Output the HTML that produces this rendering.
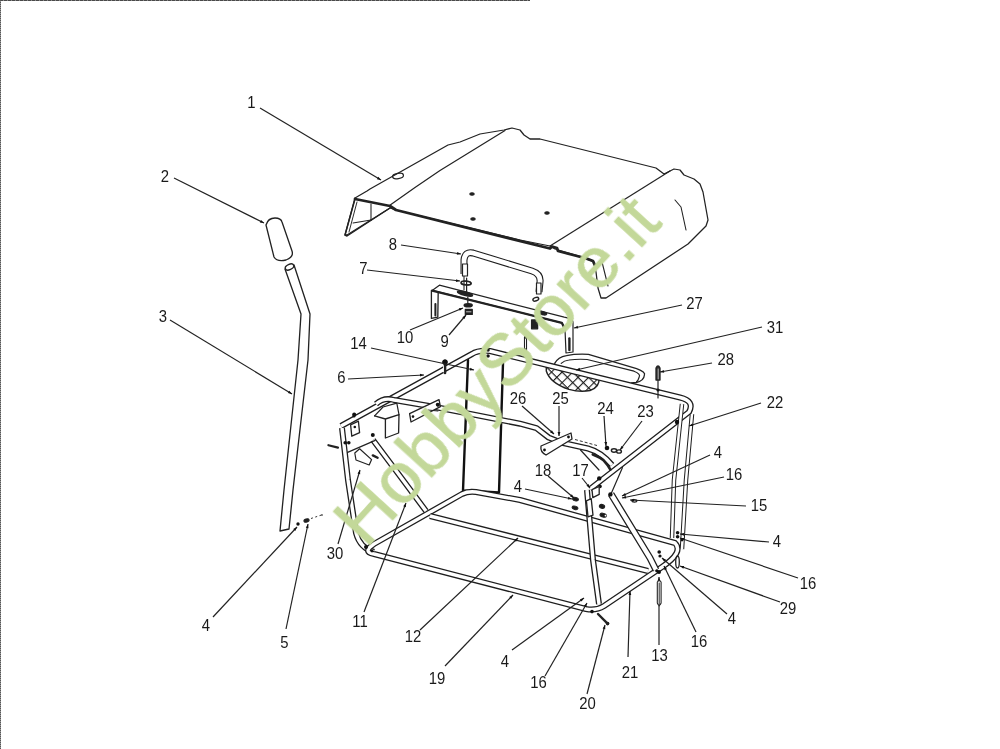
<!DOCTYPE html>
<html><head><meta charset="utf-8"><style>
html,body{margin:0;padding:0;background:#fff;width:1000px;height:749px;overflow:hidden}
svg{position:absolute;left:0;top:0;display:block}
</style></head><body>
<svg width="1000" height="749" viewBox="0 0 1000 749">
<defs>
<pattern id="hatch" width="7.5" height="7.5" patternUnits="userSpaceOnUse" patternTransform="rotate(45)">
<rect width="7.5" height="7.5" fill="#fff"/>
<path d="M0,0 L7.5,0 M0,0 L0,7.5" stroke="#1a1a1a" stroke-width="2.2"/>
</pattern>
</defs>
<line x1="0" y1="0.5" x2="530" y2="0.5" stroke="#8a8a8a" stroke-width="1"/>
<line x1="0" y1="0.5" x2="530" y2="0.5" stroke="#4a4a4a" stroke-width="1" stroke-dasharray="3,1"/>
<line x1="0.5" y1="0" x2="0.5" y2="749" stroke="#999" stroke-width="1"/>
<line x1="0.5" y1="0" x2="0.5" y2="749" stroke="#555" stroke-width="1" stroke-dasharray="1,1"/>
<path d="M355,198 L367,191 L370,189 L448,145 L460,142 L480,134 L504,130 L512,128 L520,130 L524,135 L530,139 L540,139 L656,168 L664,174 L670,171 L674,169 L680,170 L684,175 L694,179 L700,184 L703,192 L708,220 L706,226 L688,244 L606,298 L601,298 L598,288 L596,272 L594,262 L582,257 L555,249 L550,246 L520,240 L396,210 L390,208 L347,235 L345,235 Z" fill="#fff" stroke="#222" stroke-width="1.26" stroke-linejoin="round" stroke-linecap="round" />
<polyline points="355,199 390,206 396,210 550,248.5 552,246.5 557,248 558,251 577,256 586,258.4 593,261 595,265.6" fill="none" stroke="#222" stroke-width="2.76" stroke-linejoin="round" stroke-linecap="round" />
<polyline points="389.5,205.6 415,187.5 440,170.5 505,130.6" fill="none" stroke="#222" stroke-width="1.2" stroke-linejoin="round" stroke-linecap="round" />
<polyline points="550,246 670,171" fill="none" stroke="#222" stroke-width="1.2" stroke-linejoin="round" stroke-linecap="round" />
<polyline points="355,199 345,235 347,236 390,208" fill="none" stroke="#222" stroke-width="1.44" stroke-linejoin="round" stroke-linecap="round" />
<polyline points="357,202 349,232" fill="none" stroke="#222" stroke-width="0.96" stroke-linejoin="round" stroke-linecap="round" />
<polyline points="371,204 371,220" fill="none" stroke="#222" stroke-width="1.08" stroke-linejoin="round" stroke-linecap="round" />
<polyline points="353,223 371,220" fill="none" stroke="#222" stroke-width="1.08" stroke-linejoin="round" stroke-linecap="round" />
<polyline points="675,200 681,207 686,230" fill="none" stroke="#222" stroke-width="1.08" stroke-linejoin="round" stroke-linecap="round" />
<polyline points="602,262 608,286" fill="none" stroke="#222" stroke-width="1.08" stroke-linejoin="round" stroke-linecap="round" />
<ellipse cx="398" cy="176" rx="5.5" ry="2.6" transform="rotate(-10 398 176)" fill="none" stroke="#222" stroke-width="1.2"/>
<ellipse cx="472" cy="194" rx="2.2" ry="1.2" transform="rotate(0 472 194)" fill="#222" stroke="#222" stroke-width="1.2"/>
<ellipse cx="473" cy="219" rx="2.2" ry="1.2" transform="rotate(0 473 219)" fill="#222" stroke="#222" stroke-width="1.2"/>
<ellipse cx="547" cy="213" rx="2.2" ry="1.2" transform="rotate(0 547 213)" fill="#222" stroke="#222" stroke-width="1.2"/>
<path d="M266,225 Q268,218 275,218 Q281,218 282,222 L292,251 Q294,257 286,260 Q277,262 274,257 Z" fill="#fff" stroke="#222" stroke-width="1.32" stroke-linejoin="round" stroke-linecap="round" />
<path d="M285,269 L301,314 L298,360 L284,490 L280,531 L289,529 L293,490 L308,360 L310,314 L294,265" fill="none" stroke="#222" stroke-width="1.32" stroke-linejoin="round" stroke-linecap="round" />
<ellipse cx="289.5" cy="267" rx="4.5" ry="2.6" transform="rotate(-25 289.5 267)" fill="none" stroke="#222" stroke-width="1.32"/>
<path d="M464,274 L464,260 Q465,251 473,253 L532,271 Q541,274 540,282 L539,292" fill="none" stroke="#1e1e1e" stroke-width="7" stroke-linejoin="round" stroke-linecap="butt"/>
<path d="M464,274 L464,260 Q465,251 473,253 L532,271 Q541,274 540,282 L539,292" fill="none" stroke="#fff" stroke-width="4.8" stroke-linejoin="round" stroke-linecap="butt"/>
<polyline points="464,274 464,290" fill="none" stroke="#222" stroke-width="1.08" stroke-linejoin="round" stroke-linecap="round" />
<ellipse cx="466" cy="283" rx="5" ry="2" transform="rotate(0 466 283)" fill="none" stroke="#222" stroke-width="1.2"/>
<path d="M432.2,290.4 L439.4,285.2 L564.2,317.2 L571.5,318.8 L573,322 L573,352 L566,353 L565,329.2 L561.8,322.8 Z" fill="#fff" stroke="#222" stroke-width="1.2" stroke-linejoin="round" stroke-linecap="round" />
<path d="M431.4,290.4 L431.4,318.4 L437.8,317.2 L438.2,292" fill="#fff" stroke="#222" stroke-width="1.32" stroke-linejoin="round" stroke-linecap="round" />
<polyline points="432.2,290.6 561.8,322.8 565,329.2" fill="none" stroke="#222" stroke-width="2.28" stroke-linejoin="round" stroke-linecap="round" />
<polyline points="435.4,304 435.4,315.5" fill="none" stroke="#222" stroke-width="2.04" stroke-linejoin="round" stroke-linecap="round" />
<polyline points="569.4,338.5 569.4,350" fill="none" stroke="#222" stroke-width="2.4" stroke-linejoin="round" stroke-linecap="round" />
<ellipse cx="465" cy="293.6" rx="7.5" ry="1.5" transform="rotate(14 465 293.6)" fill="#222" stroke="#222" stroke-width="1.92"/>
<ellipse cx="542.6" cy="313.2" rx="4" ry="1.4" transform="rotate(14 542.6 313.2)" fill="#222" stroke="#222" stroke-width="1.68"/>
<polyline points="466.6,278 466.6,292" fill="none" stroke="#222" stroke-width="1.2" stroke-linejoin="round" stroke-linecap="round" />
<polyline points="467.8,297 467.8,303" fill="none" stroke="#222" stroke-width="1.2" stroke-linejoin="round" stroke-linecap="round" />
<ellipse cx="466.2" cy="283" rx="5" ry="1.8" transform="rotate(8 466.2 283)" fill="none" stroke="#222" stroke-width="1.56"/>
<ellipse cx="468.2" cy="305.2" rx="4" ry="1.6" transform="rotate(0 468.2 305.2)" fill="#222" stroke="#222" stroke-width="1.44"/>
<path d="M465.4,309.4 L472.2,309.4 L472.2,314.4 L465.4,314.4 Z" fill="#222" stroke="#222" stroke-width="1.44" stroke-linejoin="round" stroke-linecap="round" />
<polyline points="466.5,311.8 471,311.8" fill="none" stroke="#fff" stroke-width="0.72" stroke-linejoin="round" stroke-linecap="round" />
<ellipse cx="535.8" cy="299.2" rx="3" ry="1.7" transform="rotate(-20 535.8 299.2)" fill="none" stroke="#222" stroke-width="1.44"/>
<path d="M531.6,320 L537.6,320 L537.6,328.8 L531.6,328.8 Z" fill="#222" stroke="#222" stroke-width="1.32" stroke-linejoin="round" stroke-linecap="round" />
<polyline points="468,360 463,490.5 499,492.5 503,363" fill="none" stroke="#111" stroke-width="2.4" stroke-linejoin="round" stroke-linecap="round" />
<circle cx="471" cy="490.5" r="1.8" fill="#111"/>
<path d="M554.7,363.4 Q558,357 566.4,355.6 Q576,353.6 588.5,354.3 L636.6,368.6 Q646,372 644.4,375 Q644,381 636,382.5 L631.4,383" fill="none" stroke="#222" stroke-width="1.32" stroke-linejoin="round" stroke-linecap="round" />
<path d="M561.2,363.4 Q564,360.5 569,360 Q578,358.8 587.2,359.5 L634,371.2 Q641,374 639.2,377 Q638,381 636.6,381.6" fill="none" stroke="#222" stroke-width="1.2" stroke-linejoin="round" stroke-linecap="round" />
<path d="M546.3,366 L599,378 Q600,387 590,390.5 Q580,392.5 569,389.4 Q550,383 546.3,371 Z" fill="url(#hatch)" stroke="#222" stroke-width="1.44" stroke-linejoin="round" stroke-linecap="round" />
<path d="M341,426 L472,354 Q478,350 490,351 L680,397.5 Q695,401 689,412 L590,489" fill="none" stroke="#1e1e1e" stroke-width="6" stroke-linejoin="round" stroke-linecap="butt"/>
<path d="M341,426 L472,354 Q478,350 490,351 L680,397.5 Q695,401 689,412 L590,489" fill="none" stroke="#fff" stroke-width="3.4" stroke-linejoin="round" stroke-linecap="butt"/>
<path d="M342,428 L348,480 L356,533 Q360,548 374,552" fill="none" stroke="#1e1e1e" stroke-width="6" stroke-linejoin="round" stroke-linecap="butt"/>
<path d="M342,428 L348,480 L356,533 Q360,548 374,552" fill="none" stroke="#fff" stroke-width="3.4" stroke-linejoin="round" stroke-linecap="butt"/>
<path d="M374,554 L586,609 Q596,611 604,606 L662,567 Q684,552 675,543 L520,500 L476,492 Q468,491 462,494 L374,544 Q362,552 374,554" fill="none" stroke="#1e1e1e" stroke-width="6" stroke-linejoin="round" stroke-linecap="butt"/>
<path d="M374,554 L586,609 Q596,611 604,606 L662,567 Q684,552 675,543 L520,500 L476,492 Q468,491 462,494 L374,544 Q362,552 374,554" fill="none" stroke="#fff" stroke-width="3.4" stroke-linejoin="round" stroke-linecap="butt"/>
<path d="M430,516 L648,571" fill="none" stroke="#1e1e1e" stroke-width="6" stroke-linejoin="round" stroke-linecap="butt"/>
<path d="M430,516 L648,571" fill="none" stroke="#fff" stroke-width="3.4" stroke-linejoin="round" stroke-linecap="butt"/>
<path d="M373,440 L397,472 L426,511" fill="none" stroke="#1e1e1e" stroke-width="6" stroke-linejoin="round" stroke-linecap="butt"/>
<path d="M373,440 L397,472 L426,511" fill="none" stroke="#fff" stroke-width="3.4" stroke-linejoin="round" stroke-linecap="butt"/>
<path d="M611,494 L650,558 L656,570" fill="none" stroke="#1e1e1e" stroke-width="7" stroke-linejoin="round" stroke-linecap="butt"/>
<path d="M611,494 L650,558 L656,570" fill="none" stroke="#fff" stroke-width="4.4" stroke-linejoin="round" stroke-linecap="butt"/>
<polyline points="622.5,467.5 611,494" fill="none" stroke="#222" stroke-width="1.2" stroke-linejoin="round" stroke-linecap="round" />
<path d="M587,490 L593,560 L599,604" fill="none" stroke="#1e1e1e" stroke-width="6" stroke-linejoin="round" stroke-linecap="butt"/>
<path d="M587,490 L593,560 L599,604" fill="none" stroke="#fff" stroke-width="3.4" stroke-linejoin="round" stroke-linecap="butt"/>
<path d="M376,404 Q384,397 394,400 L435,407 L520,423.7 L536.5,428.2 L548.6,437.5 L561,442.5 L588,448.5 Q601,452 612,465" fill="none" stroke="#1e1e1e" stroke-width="6" stroke-linejoin="round" stroke-linecap="butt"/>
<path d="M376,404 Q384,397 394,400 L435,407 L520,423.7 L536.5,428.2 L548.6,437.5 L561,442.5 L588,448.5 Q601,452 612,465" fill="none" stroke="#fff" stroke-width="3.4" stroke-linejoin="round" stroke-linecap="butt"/>
<line x1="575" y1="439.5" x2="597" y2="445.5" stroke="#333" stroke-width="1" stroke-dasharray="3,2"/>
<polyline points="580.5,450 599,470" fill="none" stroke="#222" stroke-width="1.2" stroke-linejoin="round" stroke-linecap="round" />
<path d="M682,404 L674,480 L672,538" fill="none" stroke="#1e1e1e" stroke-width="4.5" stroke-linejoin="round" stroke-linecap="butt"/>
<path d="M682,404 L674,480 L672,538" fill="none" stroke="#fff" stroke-width="2.5" stroke-linejoin="round" stroke-linecap="butt"/>
<path d="M692,414 L686,480 L682,549" fill="none" stroke="#1e1e1e" stroke-width="4.5" stroke-linejoin="round" stroke-linecap="butt"/>
<path d="M692,414 L686,480 L682,549" fill="none" stroke="#fff" stroke-width="2.5" stroke-linejoin="round" stroke-linecap="butt"/>
<path d="M541,446 L571,433 L572,439 L546,455 Q540,452 541,446 Z" fill="#fff" stroke="#222" stroke-width="1.32" stroke-linejoin="round" stroke-linecap="round" />
<circle cx="544.5" cy="450" r="1.4" fill="#111"/>
<circle cx="568.5" cy="437" r="1.4" fill="#111"/>
<path d="M350.6,424.8 L358.4,421.2 L359.6,432.6 L351.8,436.2 Z" fill="#fff" stroke="#222" stroke-width="1.32" stroke-linejoin="round" stroke-linecap="round" />
<circle cx="354.8" cy="427" r="1.3" fill="#111"/>
<circle cx="354.2" cy="414.6" r="2.0" fill="#111"/>
<path d="M374.6,415.8 L385.4,419 L399,414.6 L398.6,433 L385.4,438 L385.4,419" fill="#fff" stroke="#222" stroke-width="1.32" stroke-linejoin="round" stroke-linecap="round" />
<polyline points="374.6,415.8 383,407 396.8,403.2 399,414.6" fill="none" stroke="#222" stroke-width="1.2" stroke-linejoin="round" stroke-linecap="round" />
<circle cx="372.8" cy="435" r="2.0" fill="#111"/>
<path d="M409.6,413.6 L439,399.6 L440.4,406.6 L411,422 Z" fill="#fff" stroke="#222" stroke-width="1.32" stroke-linejoin="round" stroke-linecap="round" />
<circle cx="413" cy="416.6" r="1.3" fill="#111"/>
<circle cx="437.6" cy="404.6" r="1.8" fill="#111"/>
<polyline points="428,410 438,411" fill="none" stroke="#222" stroke-width="1.08" stroke-linejoin="round" stroke-linecap="round" />
<path d="M354.8,453 L359.6,448.8 L371.6,459.6 L369.2,465 L356,460 Z" fill="#fff" stroke="#222" stroke-width="1.2" stroke-linejoin="round" stroke-linecap="round" />
<polyline points="328.4,445.2 338,447.6" fill="none" stroke="#222" stroke-width="2.16" stroke-linejoin="round" stroke-linecap="round" />
<circle cx="345.2" cy="442.8" r="1.8" fill="#111"/>
<circle cx="348.8" cy="442.8" r="1.8" fill="#111"/>
<polyline points="372.8,455.4 377.6,457.8" fill="none" stroke="#222" stroke-width="2.4" stroke-linejoin="round" stroke-linecap="round" />
<polyline points="347.6,452.4 375.2,440.4" fill="none" stroke="#222" stroke-width="1.2" stroke-linejoin="round" stroke-linecap="round" />
<circle cx="445" cy="362" r="2.6" fill="#111"/>
<polyline points="445,364 445,373" fill="none" stroke="#222" stroke-width="2.64" stroke-linejoin="round" stroke-linecap="round" />
<polyline points="443.5,366 443.5,372" fill="none" stroke="#fff" stroke-width="0.84" stroke-linejoin="round" stroke-linecap="round" />
<circle cx="607" cy="448" r="2.3" fill="#111"/>
<circle cx="599.2" cy="478.4" r="2.2" fill="#111"/>
<circle cx="600" cy="486.4" r="1.8" fill="#111"/>
<circle cx="610.4" cy="494.4" r="2.2" fill="#111"/>
<circle cx="677.6" cy="532.8" r="1.8" fill="#111"/>
<circle cx="677.6" cy="536.8" r="1.8" fill="#111"/>
<circle cx="682" cy="540" r="1.4" fill="#111"/>
<circle cx="659.2" cy="552" r="1.8" fill="#111"/>
<circle cx="660" cy="556" r="1.6" fill="#111"/>
<circle cx="659" cy="572" r="2.0" fill="#111"/>
<circle cx="592" cy="611.6" r="1.8" fill="#111"/>
<circle cx="607.6" cy="623.6" r="1.8" fill="#111"/>
<circle cx="656.8" cy="570.8" r="1.6" fill="#111"/>
<circle cx="445" cy="362" r="2.6" fill="#111"/>
<circle cx="488" cy="350" r="1.8" fill="#111"/>
<circle cx="488" cy="356" r="1.8" fill="#111"/>
<circle cx="438" cy="405" r="1.8" fill="#111"/>
<circle cx="354" cy="416" r="1.6" fill="#111"/>
<circle cx="677" cy="422" r="2.2" fill="#111"/>
<ellipse cx="614" cy="450.5" rx="2.6" ry="1.7" transform="rotate(0 614 450.5)" fill="none" stroke="#222" stroke-width="1.44"/>
<ellipse cx="619" cy="451.5" rx="2.4" ry="1.6" transform="rotate(0 619 451.5)" fill="none" stroke="#222" stroke-width="1.44"/>
<ellipse cx="634.4" cy="500.8" rx="2.5" ry="1.3" transform="rotate(0 634.4 500.8)" fill="none" stroke="#222" stroke-width="1.2"/>
<polyline points="598,614 607.6,623.6" fill="none" stroke="#222" stroke-width="2.4" stroke-linejoin="round" stroke-linecap="round" />
<ellipse cx="677.5" cy="562" rx="1.8" ry="6" transform="rotate(0 677.5 562)" fill="none" stroke="#222" stroke-width="1.32"/>
<path d="M656,368 Q658,364 660,368 L660,380 L656,380 Z" fill="#333" stroke="#222" stroke-width="1.32" stroke-linejoin="round" stroke-linecap="round" />
<polyline points="658.2,369 658.2,379" fill="none" stroke="#bbb" stroke-width="0.96" stroke-linejoin="round" stroke-linecap="round" />
<polyline points="658,380 658,398" fill="none" stroke="#222" stroke-width="1.2" stroke-linejoin="round" stroke-linecap="round" />
<circle cx="658" cy="390" r="1.6" fill="#111"/>
<ellipse cx="575.5" cy="499.2" rx="3.0" ry="1.7" transform="rotate(15 575.5 499.2)" fill="#1a1a1a" stroke="#222" stroke-width="0.96"/>
<ellipse cx="575" cy="507.8" rx="3.0" ry="1.7" transform="rotate(15 575 507.8)" fill="#1a1a1a" stroke="#222" stroke-width="0.96"/>
<ellipse cx="602" cy="506.4" rx="2.6" ry="1.8" transform="rotate(15 602 506.4)" fill="#1a1a1a" stroke="#222" stroke-width="1.2"/>
<ellipse cx="603.2" cy="515.2" rx="3.2" ry="1.8" transform="rotate(15 603.2 515.2)" fill="#1a1a1a" stroke="#222" stroke-width="1.2"/>
<circle cx="605.5" cy="515.6" r="0.9" fill="#fff"/>
<path d="M592.8,454.4 Q602,458 604,460.8 Q608,465 610.4,469.6" fill="none" stroke="#222" stroke-width="2.64" stroke-linejoin="round" stroke-linecap="round" />
<path d="M592,489.6 L599.2,486.5 L599.2,494.4 L592.8,497.6 Z" fill="#fff" stroke="#222" stroke-width="1.32" stroke-linejoin="round" stroke-linecap="round" />
<path d="M586.4,500.8 L591.2,498.6 L593,515.2 L588,516.8 Z" fill="#fff" stroke="#222" stroke-width="1.32" stroke-linejoin="round" stroke-linecap="round" />
<circle cx="298" cy="524" r="1.7" fill="#111"/>
<ellipse cx="306.5" cy="520.5" rx="2.6" ry="1.5" transform="rotate(-20 306.5 520.5)" fill="#222" stroke="#222" stroke-width="1.2"/>
<line x1="311" y1="518.5" x2="323" y2="514.5" stroke="#333" stroke-width="1" stroke-dasharray="2,2.5"/>
<circle cx="322" cy="515" r="0.8" fill="#111"/>
<circle cx="366" cy="547" r="2.0" fill="#111"/>
<circle cx="372" cy="551" r="1.4" fill="#111"/>
<path d="M462.5,264 L467.5,264 L467.5,276 L462.5,276 Z" fill="#fff" stroke="#222" stroke-width="1.2" stroke-linejoin="round" stroke-linecap="round" />
<path d="M536.5,283 L541,283 L541,294 L536.5,294 Z" fill="#fff" stroke="#222" stroke-width="1.2" stroke-linejoin="round" stroke-linecap="round" />
<polyline points="525.5,337 525.5,350" fill="none" stroke="#222" stroke-width="3.12" stroke-linejoin="round" stroke-linecap="round" />
<polyline points="525.5,339 525.5,348" fill="none" stroke="#fff" stroke-width="0.96" stroke-linejoin="round" stroke-linecap="round" />
<line x1="260" y1="108" x2="381" y2="180" stroke="#222" stroke-width="1.2"/>
<polygon points="381,180 376.85,179.16 378.28,176.75" fill="#111"/>
<line x1="174" y1="178" x2="264" y2="223" stroke="#222" stroke-width="1.2"/>
<polygon points="264,223 259.80,222.46 261.05,219.96" fill="#111"/>
<line x1="170" y1="320" x2="292" y2="394" stroke="#222" stroke-width="1.2"/>
<polygon points="292,394 287.85,393.12 289.31,390.73" fill="#111"/>
<line x1="401" y1="245" x2="461" y2="254" stroke="#222" stroke-width="1.2"/>
<polygon points="461,254 456.84,254.79 457.25,252.02" fill="#111"/>
<line x1="367" y1="270" x2="460" y2="281" stroke="#222" stroke-width="1.2"/>
<polygon points="460,281 455.86,281.92 456.19,279.14" fill="#111"/>
<line x1="410" y1="330" x2="463" y2="308" stroke="#222" stroke-width="1.2"/>
<polygon points="463,308 459.84,310.83 458.77,308.24" fill="#111"/>
<line x1="449" y1="335" x2="466" y2="315" stroke="#222" stroke-width="1.2"/>
<polygon points="466,315 464.48,318.95 462.34,317.14" fill="#111"/>
<line x1="371" y1="348" x2="474" y2="370" stroke="#222" stroke-width="1.2"/>
<polygon points="474,370 469.80,370.53 470.38,367.80" fill="#111"/>
<line x1="348" y1="379" x2="424" y2="375" stroke="#222" stroke-width="1.2"/>
<polygon points="424,375 420.08,376.61 419.93,373.81" fill="#111"/>
<line x1="682" y1="305" x2="574" y2="328" stroke="#222" stroke-width="1.2"/>
<polygon points="574,328 577.62,325.80 578.20,328.54" fill="#111"/>
<line x1="762" y1="327" x2="576" y2="370" stroke="#222" stroke-width="1.2"/>
<polygon points="576,370 579.58,367.74 580.21,370.46" fill="#111"/>
<line x1="712" y1="363" x2="660" y2="372" stroke="#222" stroke-width="1.2"/>
<polygon points="660,372 663.70,369.94 664.18,372.70" fill="#111"/>
<line x1="522" y1="406" x2="554" y2="434" stroke="#222" stroke-width="1.2"/>
<polygon points="554,434 550.07,432.42 551.91,430.31" fill="#111"/>
<line x1="559" y1="406" x2="559" y2="436" stroke="#222" stroke-width="1.2"/>
<polygon points="559,436 557.60,432.00 560.40,432.00" fill="#111"/>
<line x1="604" y1="416" x2="606" y2="446" stroke="#222" stroke-width="1.2"/>
<polygon points="606,446 604.34,442.10 607.13,441.92" fill="#111"/>
<line x1="642" y1="421" x2="620" y2="450" stroke="#222" stroke-width="1.2"/>
<polygon points="620,450 621.30,445.97 623.53,447.66" fill="#111"/>
<line x1="761" y1="403" x2="689" y2="426" stroke="#222" stroke-width="1.2"/>
<polygon points="689,426 692.38,423.45 693.24,426.12" fill="#111"/>
<line x1="548" y1="476" x2="574" y2="498" stroke="#222" stroke-width="1.2"/>
<polygon points="574,498 570.04,496.48 571.85,494.35" fill="#111"/>
<line x1="582" y1="478" x2="590" y2="488" stroke="#222" stroke-width="1.2"/>
<polygon points="590,488 586.41,485.75 588.59,484.00" fill="#111"/>
<line x1="525" y1="489" x2="572" y2="499" stroke="#222" stroke-width="1.2"/>
<polygon points="572,499 567.80,499.54 568.38,496.80" fill="#111"/>
<line x1="710" y1="455" x2="622" y2="496" stroke="#222" stroke-width="1.2"/>
<polygon points="622,496 625.03,493.04 626.22,495.58" fill="#111"/>
<line x1="724" y1="477" x2="622" y2="498" stroke="#222" stroke-width="1.2"/>
<polygon points="622,498 625.64,495.82 626.20,498.56" fill="#111"/>
<line x1="746" y1="506" x2="630" y2="500" stroke="#222" stroke-width="1.2"/>
<polygon points="630,500 634.07,498.81 633.92,501.60" fill="#111"/>
<line x1="769" y1="542" x2="680" y2="534" stroke="#222" stroke-width="1.2"/>
<polygon points="680,534 684.11,532.96 683.86,535.75" fill="#111"/>
<line x1="798" y1="578" x2="680" y2="538" stroke="#222" stroke-width="1.2"/>
<polygon points="680,538 684.24,537.96 683.34,540.61" fill="#111"/>
<line x1="780" y1="602" x2="680" y2="566" stroke="#222" stroke-width="1.2"/>
<polygon points="680,566 684.24,566.04 683.29,568.67" fill="#111"/>
<line x1="727" y1="614" x2="662" y2="558" stroke="#222" stroke-width="1.2"/>
<polygon points="662,558 665.94,559.55 664.12,561.67" fill="#111"/>
<line x1="696" y1="632" x2="664" y2="566" stroke="#222" stroke-width="1.2"/>
<polygon points="664,566 667.00,568.99 664.49,570.21" fill="#111"/>
<line x1="659" y1="645" x2="659" y2="577" stroke="#222" stroke-width="1.2"/>
<polygon points="659,577 660.40,581.00 657.60,581.00" fill="#111"/>
<line x1="628" y1="657" x2="630" y2="591" stroke="#222" stroke-width="1.2"/>
<polygon points="630,591 631.28,595.04 628.48,594.96" fill="#111"/>
<line x1="587" y1="694" x2="605" y2="625" stroke="#222" stroke-width="1.2"/>
<polygon points="605,625 605.34,629.22 602.64,628.52" fill="#111"/>
<line x1="545" y1="676" x2="587" y2="603" stroke="#222" stroke-width="1.2"/>
<polygon points="587,603 586.22,607.17 583.79,605.77" fill="#111"/>
<line x1="512" y1="650" x2="584" y2="598" stroke="#222" stroke-width="1.2"/>
<polygon points="584,598 581.58,601.48 579.94,599.21" fill="#111"/>
<line x1="445" y1="666" x2="513" y2="595" stroke="#222" stroke-width="1.2"/>
<polygon points="513,595 511.24,598.86 509.22,596.92" fill="#111"/>
<line x1="420" y1="630" x2="518" y2="538" stroke="#222" stroke-width="1.2"/>
<polygon points="518,538 516.04,541.76 514.13,539.72" fill="#111"/>
<line x1="364" y1="612" x2="406" y2="503" stroke="#222" stroke-width="1.2"/>
<polygon points="406,503 405.87,507.24 403.26,506.23" fill="#111"/>
<line x1="286" y1="629" x2="308" y2="524" stroke="#222" stroke-width="1.2"/>
<polygon points="308,524 308.55,528.20 305.81,527.63" fill="#111"/>
<line x1="213" y1="617" x2="297" y2="527" stroke="#222" stroke-width="1.2"/>
<polygon points="297,527 295.29,530.88 293.25,528.97" fill="#111"/>
<line x1="338" y1="544" x2="360" y2="470" stroke="#222" stroke-width="1.2"/>
<polygon points="360,470 360.20,474.23 357.52,473.44" fill="#111"/>
<path d="M657.3,582 Q659.2,579.5 661.1,582 L661.1,603 Q659.2,608 657.3,603 Z" fill="#fff" stroke="#222" stroke-width="1.08" stroke-linejoin="round" stroke-linecap="round" />
<polyline points="659.2,583 659.2,606" fill="none" stroke="#222" stroke-width="0.96" stroke-linejoin="round" stroke-linecap="round" />
<g font-family="Liberation Sans, sans-serif" font-size="16" fill="#1a1a1a" style="filter:blur(0)">
<text x="0" y="0" text-anchor="middle" transform="translate(251.5,107.8) scale(0.93,1)">1</text>
<text x="0" y="0" text-anchor="middle" transform="translate(165,181.8) scale(0.93,1)">2</text>
<text x="0" y="0" text-anchor="middle" transform="translate(163,321.8) scale(0.93,1)">3</text>
<text x="0" y="0" text-anchor="middle" transform="translate(393,249.8) scale(0.93,1)">8</text>
<text x="0" y="0" text-anchor="middle" transform="translate(363.5,273.8) scale(0.93,1)">7</text>
<text x="0" y="0" text-anchor="middle" transform="translate(405,342.8) scale(0.93,1)">10</text>
<text x="0" y="0" text-anchor="middle" transform="translate(444.6,346.8) scale(0.93,1)">9</text>
<text x="0" y="0" text-anchor="middle" transform="translate(358.5,348.8) scale(0.93,1)">14</text>
<text x="0" y="0" text-anchor="middle" transform="translate(341.5,382.8) scale(0.93,1)">6</text>
<text x="0" y="0" text-anchor="middle" transform="translate(694.5,308.8) scale(0.93,1)">27</text>
<text x="0" y="0" text-anchor="middle" transform="translate(775,332.8) scale(0.93,1)">31</text>
<text x="0" y="0" text-anchor="middle" transform="translate(725.7,364.8) scale(0.93,1)">28</text>
<text x="0" y="0" text-anchor="middle" transform="translate(518,403.8) scale(0.93,1)">26</text>
<text x="0" y="0" text-anchor="middle" transform="translate(560.5,403.8) scale(0.93,1)">25</text>
<text x="0" y="0" text-anchor="middle" transform="translate(605.5,413.8) scale(0.93,1)">24</text>
<text x="0" y="0" text-anchor="middle" transform="translate(645.5,416.8) scale(0.93,1)">23</text>
<text x="0" y="0" text-anchor="middle" transform="translate(775,407.8) scale(0.93,1)">22</text>
<text x="0" y="0" text-anchor="middle" transform="translate(543,475.8) scale(0.93,1)">18</text>
<text x="0" y="0" text-anchor="middle" transform="translate(580.5,475.8) scale(0.93,1)">17</text>
<text x="0" y="0" text-anchor="middle" transform="translate(518,491.8) scale(0.93,1)">4</text>
<text x="0" y="0" text-anchor="middle" transform="translate(718,457.8) scale(0.93,1)">4</text>
<text x="0" y="0" text-anchor="middle" transform="translate(734,479.8) scale(0.93,1)">16</text>
<text x="0" y="0" text-anchor="middle" transform="translate(759,510.8) scale(0.93,1)">15</text>
<text x="0" y="0" text-anchor="middle" transform="translate(777,546.8) scale(0.93,1)">4</text>
<text x="0" y="0" text-anchor="middle" transform="translate(808,588.8) scale(0.93,1)">16</text>
<text x="0" y="0" text-anchor="middle" transform="translate(788,613.8) scale(0.93,1)">29</text>
<text x="0" y="0" text-anchor="middle" transform="translate(732,623.8) scale(0.93,1)">4</text>
<text x="0" y="0" text-anchor="middle" transform="translate(699,646.8) scale(0.93,1)">16</text>
<text x="0" y="0" text-anchor="middle" transform="translate(659.5,660.8) scale(0.93,1)">13</text>
<text x="0" y="0" text-anchor="middle" transform="translate(630,677.8) scale(0.93,1)">21</text>
<text x="0" y="0" text-anchor="middle" transform="translate(587.5,708.8) scale(0.93,1)">20</text>
<text x="0" y="0" text-anchor="middle" transform="translate(538.5,687.8) scale(0.93,1)">16</text>
<text x="0" y="0" text-anchor="middle" transform="translate(505,666.8) scale(0.93,1)">4</text>
<text x="0" y="0" text-anchor="middle" transform="translate(437,683.8) scale(0.93,1)">19</text>
<text x="0" y="0" text-anchor="middle" transform="translate(413,641.8) scale(0.93,1)">12</text>
<text x="0" y="0" text-anchor="middle" transform="translate(360,626.8) scale(0.93,1)">11</text>
<text x="0" y="0" text-anchor="middle" transform="translate(284.5,647.8) scale(0.93,1)">5</text>
<text x="0" y="0" text-anchor="middle" transform="translate(206,630.8) scale(0.93,1)">4</text>
<text x="0" y="0" text-anchor="middle" transform="translate(335,558.8) scale(0.93,1)">30</text>
</g>
<text x="0" y="0" font-family="Liberation Sans, sans-serif" font-size="72.8" fill="#c3d899" stroke="#c3d899" stroke-width="0.7" transform="translate(366,549.5) rotate(-47.6)">HobbyStore.it</text>
</svg>
</body></html>
